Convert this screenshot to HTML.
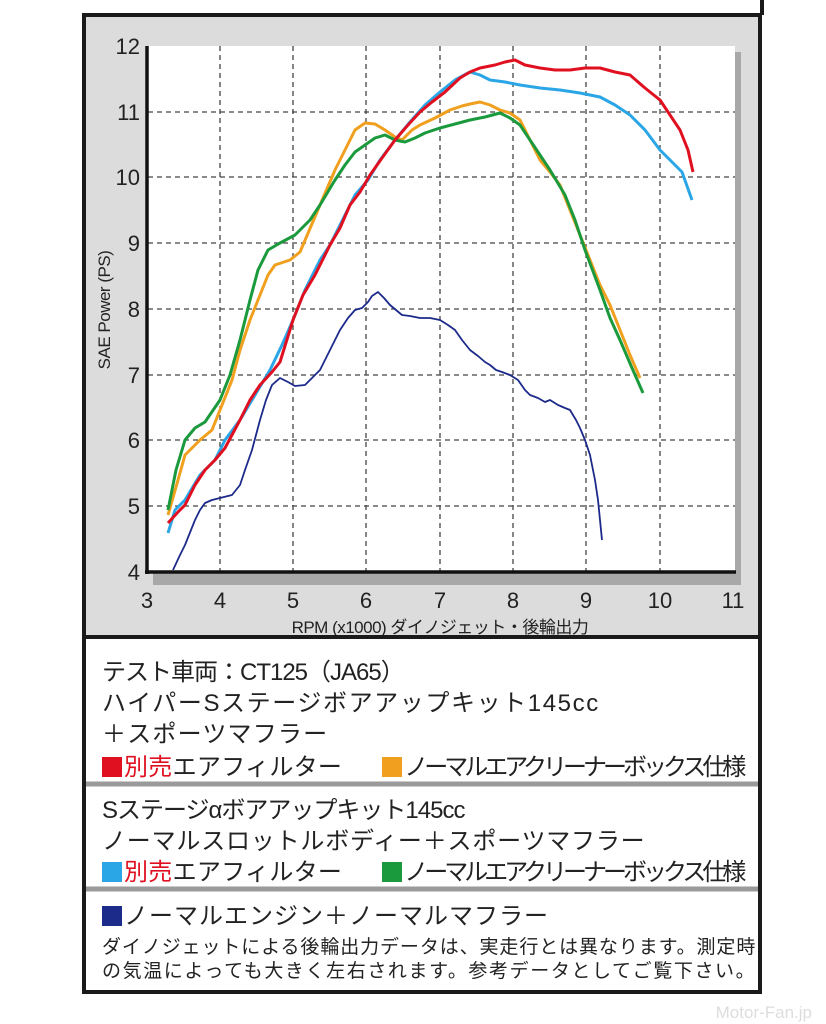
<!DOCTYPE html>
<html><head><meta charset="utf-8"><style>
html,body{margin:0;padding:0;background:#fff;width:826px;height:1024px;overflow:hidden;}
.t{position:absolute;font-family:"Liberation Sans","Noto Sans CJK JP",sans-serif;color:#222;white-space:nowrap;}
.b{font-size:24px;letter-spacing:-1px;}
.s{font-size:19px;letter-spacing:-0.5px;}
.sq{display:inline-block;width:20px;height:20px;vertical-align:-2px;margin-right:2px;}
.n{letter-spacing:-4px;}
.a{letter-spacing:0.3px;}
</style></head><body>
<svg width="826" height="1024" style="position:absolute;left:0;top:0" xmlns="http://www.w3.org/2000/svg">
<rect x="84" y="15" width="676" height="622" fill="#dcdcdc" stroke="#1a1a1a" stroke-width="4"/>
<line x1="762" y1="0" x2="762" y2="15" stroke="#1a1a1a" stroke-width="4"/>
<rect x="153" y="52" width="588" height="533" fill="#a8a8a8"/>
<rect x="148" y="46" width="587" height="526" fill="#fff"/>
<g stroke="#444" stroke-width="1.3" stroke-dasharray="5,4">
<line x1="220" y1="46" x2="220" y2="572"/><line x1="293" y1="46" x2="293" y2="572"/><line x1="366" y1="46" x2="366" y2="572"/><line x1="440" y1="46" x2="440" y2="572"/><line x1="513" y1="46" x2="513" y2="572"/><line x1="586" y1="46" x2="586" y2="572"/><line x1="660" y1="46" x2="660" y2="572"/>
<line x1="148" y1="112" x2="735" y2="112"/><line x1="148" y1="177" x2="735" y2="177"/><line x1="148" y1="243" x2="735" y2="243"/><line x1="148" y1="309" x2="735" y2="309"/><line x1="148" y1="375" x2="735" y2="375"/><line x1="148" y1="440" x2="735" y2="440"/><line x1="148" y1="506" x2="735" y2="506"/>
</g>
<g fill="none" stroke-width="3" stroke-linejoin="round">
<polyline stroke="#f0a01e" points="168,515 178,480 185,455 200,440 212,430 220,410 232,380 240,350 250,320 258,300 268,275 275,265 290,260 300,252 320,205 335,170 345,150 355,130 365,123 375,124 385,130 395,137 402,140 412,130 420,125 435,118 450,110 462,106 470,104 480,102 490,105 500,110 510,113 520,120 530,140 540,160 550,172 560,185 570,210 580,235 590,260 600,285 610,305 620,330 630,355 640,378"/>
<polyline stroke="#1a9a3c" points="168,510 176,470 185,440 195,428 205,422 220,400 230,375 240,340 250,300 258,270 268,250 280,243 295,235 310,220 320,205 335,180 345,165 355,152 365,145 375,138 385,135 395,140 405,142 415,138 425,133 440,128 455,124 470,120 485,117 500,113 510,118 520,125 530,140 540,155 550,170 565,195 575,220 585,250 600,290 610,318 620,340 632,368 643,393"/>
<polyline stroke="#2aa6e6" points="168,533 175,510 185,500 200,475 215,460 225,440 240,420 255,395 270,370 282,345 293,320 305,290 320,260 330,245 345,215 355,195 368,180 380,160 395,140 410,122 425,105 440,92 455,80 470,72 480,75 490,80 505,82 520,85 540,88 560,90 580,93 600,97 615,105 630,115 645,130 660,150 672,162 682,172 692,200"/>
<polyline stroke="#e01020" points="168,523 178,512 185,505 195,485 205,470 215,460 225,448 240,420 250,400 260,385 272,372 280,362 293,320 303,295 315,275 330,245 340,228 350,205 360,192 370,175 382,158 395,140 408,125 420,112 432,102 445,92 460,78 470,72 480,68 495,65 505,62 515,60 525,65 540,68 555,70 570,70 585,68 600,68 615,72 630,75 645,88 660,100 670,115 680,130 688,150 693,172"/>
<polyline stroke="#1c2a8a" stroke-width="1.8" points="173,570 180,555 185,545 195,520 200,510 205,503 212,500 220,498 232,495 240,485 245,470 252,450 260,420 266,400 272,385 280,378 288,382 295,386 305,385 312,378 320,370 330,350 340,330 348,318 355,310 362,308 368,302 372,296 378,292 384,298 390,305 396,310 402,315 410,316 420,318 430,318 440,320 448,325 455,330 462,340 470,350 478,356 485,362 490,365 496,370 502,372 510,375 518,380 525,390 530,395 538,398 545,402 550,400 558,405 565,408 570,410 576,420 580,428 585,440 590,455 595,480 598,500 602,540"/>
</g>
<line x1="147" y1="46" x2="147" y2="574" stroke="#111" stroke-width="3.5"/>
<line x1="145" y1="572" x2="736" y2="572" stroke="#111" stroke-width="3.5"/>
<g font-family="Liberation Sans, sans-serif" font-size="22" fill="#222" text-anchor="end">
<text x="140" y="54">12</text><text x="140" y="120">11</text><text x="140" y="185">10</text><text x="140" y="251">9</text><text x="140" y="317">8</text><text x="140" y="383">7</text><text x="140" y="448">6</text><text x="140" y="514">5</text><text x="140" y="580">4</text>
</g>
<g font-family="Liberation Sans, sans-serif" font-size="22" fill="#222" text-anchor="middle">
<text x="147" y="608">3</text><text x="220" y="608">4</text><text x="293" y="608">5</text><text x="366" y="608">6</text><text x="440" y="608">7</text><text x="513" y="608">8</text><text x="586" y="608">9</text><text x="660" y="608">10</text><text x="733" y="608">11</text>
</g>
<text x="440" y="633" text-anchor="middle" font-family="Liberation Sans, Noto Sans CJK JP, sans-serif" font-size="17" fill="#222" letter-spacing="-0.5">RPM (x1000) ダイノジェット・後輪出力</text>
<text transform="translate(110,310) rotate(-90)" text-anchor="middle" font-family="Liberation Sans, sans-serif" font-size="17" fill="#222" letter-spacing="-0.5">SAE Power (PS)</text>
<rect x="84" y="637" width="676" height="355" fill="#fff" stroke="#1a1a1a" stroke-width="4"/>
<line x1="86" y1="784" x2="758" y2="784" stroke="#9a9a9a" stroke-width="5"/>
<line x1="86" y1="889" x2="758" y2="889" stroke="#9a9a9a" stroke-width="5"/>
<text x="812" y="1018" text-anchor="end" font-family="Liberation Sans, sans-serif" font-size="17" fill="#ddd">Motor-Fan.jp</text>
</svg>
<div class="t b" style="left:102px;top:652px">テスト車両：CT125（JA65）</div>
<div class="t b" style="left:102px;top:683px;letter-spacing:1.6px">ハイパーSステージボアアップキット145cc</div>
<div class="t b" style="left:102px;top:714px;letter-spacing:1.2px">＋スポーツマフラー</div>
<div class="t b" style="left:102px;top:747px"><span class="sq" style="background:#e01020"></span><span class="a"><span style="color:#e01020">別売</span>エアフィルター</span><span style="display:inline-block;width:40px"></span><span class="sq" style="background:#f0a01e"></span><span class="n">ノーマルエアクリーナーボックス仕様</span></div>
<div class="t b" style="left:102px;top:790px">Sステージαボアアップキット145cc</div>
<div class="t b" style="left:102px;top:821px;letter-spacing:0.8px">ノーマルスロットルボディー＋スポーツマフラー</div>
<div class="t b" style="left:102px;top:852px"><span class="sq" style="background:#2aa6e6"></span><span class="a"><span style="color:#e01020">別売</span>エアフィルター</span><span style="display:inline-block;width:40px"></span><span class="sq" style="background:#1a9a3c"></span><span class="n">ノーマルエアクリーナーボックス仕様</span></div>
<div class="t b" style="left:102px;top:896px;letter-spacing:1px"><span class="sq" style="background:#1c2a8a"></span>ノーマルエンジン＋ノーマルマフラー</div>
<div class="t s" style="left:102px;top:932px;letter-spacing:0.9px">ダイノジェットによる後輪出力データは、実走行とは異なります。測定時</div>
<div class="t s" style="left:102px;top:956px;letter-spacing:1.6px">の気温によっても大きく左右されます。参考データとしてご覧下さい。</div>
</body></html>
